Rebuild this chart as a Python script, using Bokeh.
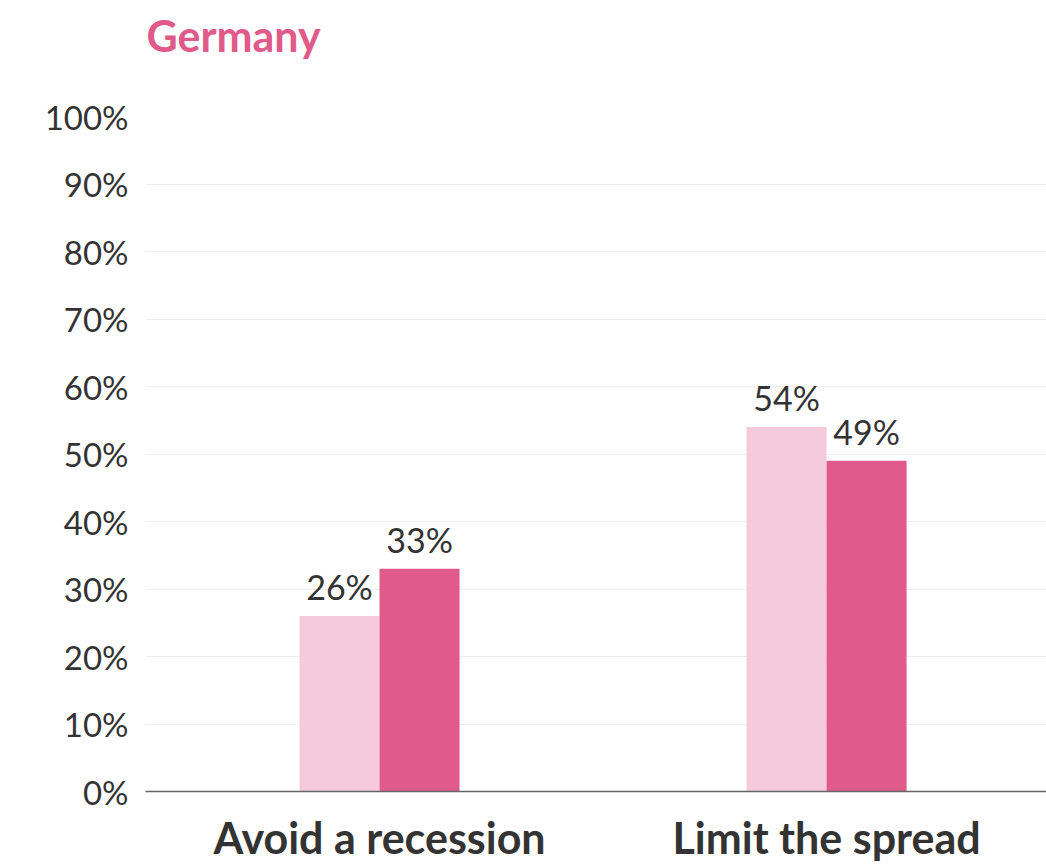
from bokeh.plotting import figure
from bokeh.models import ColumnDataSource, Range1d, FixedTicker, PrintfTickFormatter, Title
from bokeh.core.properties import value
from bokeh.embed import file_html
from bokeh.resources import INLINE

title_text = "Germany"
categories = ["Avoid a recession", "Limit the spread"]
series_a = [26, 54]
series_b = [33, 49]
label_a = ["26%", "54%"]
label_b = ["33%", "49%"]
y_ticks = [0, 10, 20, 30, 40, 50, 60, 70, 80, 90, 100]

LIGHT = "#f5cbdc"
DARK = "#e05a8a"
TEXT = "#333333"
FONT = "Lato"

centers = [i + 0.5 for i in range(len(categories))]
bw = 0.179
src = ColumnDataSource(dict(
    xa=[c - bw / 2 for c in centers],
    xb=[c + bw / 2 for c in centers],
    a=series_a, b=series_b, la=label_a, lb=label_b,
))

p = figure(width=1046, height=865, output_backend="svg", toolbar_location=None,
           x_range=Range1d(-0.0235, 1.992), y_range=Range1d(0, 100),
           min_border_left=145, min_border_right=0, min_border_top=116, min_border_bottom=74)
p.outline_line_color = None
p.background_fill_color = "white"
p.border_fill_color = "white"

p.title.text = title_text
p.title.text_font = FONT
p.title.text_font_size = "43px"
p.title.text_font_style = "bold"
p.title.text_color = DARK
p.title.offset = 1
p.title.vertical_align = "top"
p.title.standoff = 12
# invisible spacer between title and plot area
p.add_layout(Title(text=" ", text_font_size="10px", standoff=35), "above")

p.vbar(x="xa", top="a", width=bw, source=src, color=LIGHT, line_color=None)
p.vbar(x="xb", top="b", width=bw, source=src, color=DARK, line_color=None)

for xcol, ycol, tcol in [("xa", "a", "la"), ("xb", "b", "lb")]:
    p.text(x=xcol, y=ycol, text=tcol, source=src, text_align="center", text_baseline="bottom",
           y_offset=-9, text_font=value(FONT), text_font_size="34px", text_color=TEXT)

p.yaxis.ticker = FixedTicker(ticks=y_ticks)
p.yaxis.formatter = PrintfTickFormatter(format="%d%%")
p.yaxis.axis_line_color = None
p.yaxis.major_tick_line_color = None
p.yaxis.minor_tick_line_color = None
p.yaxis.major_label_text_font = FONT
p.yaxis.major_label_text_font_size = "33px"
p.yaxis.major_label_text_color = TEXT
p.yaxis.major_label_standoff = 11

p.xaxis.ticker = FixedTicker(ticks=centers)
p.xaxis.major_label_overrides = {c: name for c, name in zip(centers, categories)}
p.xaxis.axis_line_color = "#666666"
p.xaxis.axis_line_width = 1.5
p.xaxis.major_tick_line_color = None
p.xaxis.minor_tick_line_color = None
p.xaxis.major_label_text_font = FONT
p.xaxis.major_label_text_font_size = "43px"
p.xaxis.major_label_text_font_style = "bold"
p.xaxis.major_label_text_color = TEXT
p.xaxis.major_label_standoff = 14

p.xgrid.grid_line_color = None
p.ygrid.ticker = FixedTicker(ticks=y_ticks)
p.ygrid.grid_line_color = "#efefef"
p.ygrid.grid_line_width = 1

open("out.html", "w").write(file_html(p, INLINE))
